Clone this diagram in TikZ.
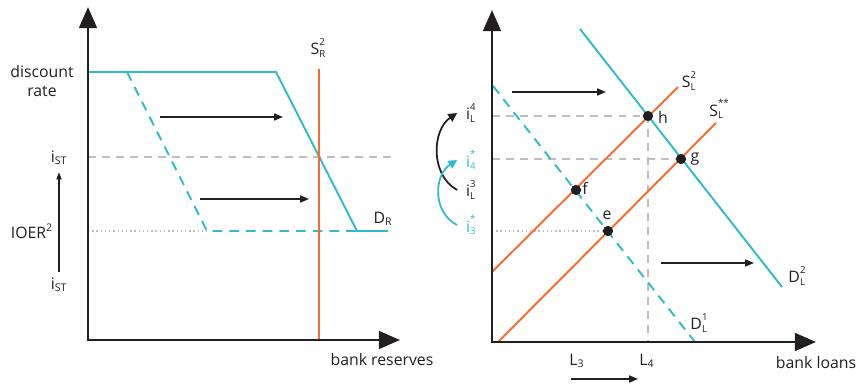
\documentclass[tikz,border=0pt]{standalone}
\usepackage{fontspec}
\setmainfont{Open Sans}
\usepackage{xcolor}
\definecolor{dteal}{RGB}{46,188,203}
\definecolor{sorange}{RGB}{247,107,46}
\definecolor{guide}{RGB}{190,190,190}
\definecolor{ink}{RGB}{35,31,32}
\usetikzlibrary{arrows.meta,positioning}
\newcommand{\supsub}[2]{\raisebox{-1.4pt}{\fontsize{5.5}{6}\selectfont\shortstack[l]{#1\\[-0.3pt]#2}}}

\begin{document}
\begin{tikzpicture}[x=0.02cm, y=-0.02cm,
  axisline/.style={line width=1.7pt, ink, line join=miter, {Triangle[length=12pt,width=10pt]}-{Triangle[length=12pt,width=10pt]}},
  demand/.style={line width=1.1pt, dteal},
  supply/.style={line width=1.1pt, sorange},
  guideline/.style={line width=1pt, guide, dash pattern=on 4.5pt off 3.5pt},
  dotline/.style={line width=1pt, guide, dash pattern=on 0.8pt off 1.6pt},
  movearrow/.style={line width=0.8pt, ink, -{Triangle[length=5pt,width=4pt]}},
  lbl/.style={font=\fontsize{9}{10.5}\selectfont, text=ink, inner sep=1pt},
  eqdot/.style={circle, fill=ink, inner sep=0pt, minimum size=5.7pt}]
  \useasboundingbox (0,0) rectangle (859,388);

  %% Left panel: reserves market
  \coordinate (o1) at (88,340);
  \coordinate (ytop1) at (88,7);
  \coordinate (xend1) at (400,340);
  \coordinate (ist1l) at (88,157);
  \coordinate (ist1r) at (395,157);
  \coordinate (ioerl) at (88,231);
  \coordinate (dr1) at (88,72);
  \coordinate (dr0) at (127,72);
  \coordinate (dr2) at (276,72);
  \coordinate (dr3) at (357,231);
  \coordinate (dr4) at (388,231);
  \coordinate (dd1) at (207,231);
  \coordinate (srtop) at (319,69);
  \coordinate (srbot) at (319,340);

  \draw[guideline] (ist1l) -- (ist1r);
  \draw[dotline] (ioerl) -- (dd1);
  \draw[demand, dash pattern=on 5.5pt off 4pt] (dr0) -- (dd1) -- (dr3);
  \draw[demand] (dr1) -- (dr2) -- (dr3) -- (dr4);
  \draw[supply] (srtop) -- (srbot);
  \draw[axisline] (ytop1) -- (o1) -- (xend1);

  \coordinate (m1a) at (160,117);
  \coordinate (m1b) at (283,117);
  \coordinate (m2a) at (200,199);
  \coordinate (m2b) at (309,199);
  \draw[movearrow] (m1a) -- (m1b);
  \draw[movearrow] (m2a) -- (m2b);

  \node[lbl, align=center] (disc) at (42,81) {discount\\rate};
  \node[lbl] (ist1) at (59,158) {i\textsubscript{ST}};
  \node[lbl] (ioer) at (32,231) {IOER\textsuperscript{2}};
  \node[lbl] (ist0) at (59,285) {i\textsubscript{ST}};
  \draw[line width=0.6pt, ink, -{Triangle[length=4pt,width=3pt]}, shorten <=2pt, shorten >=3pt] (ist0) -- (ist1);
  \node[lbl] (srlab) at (318,48) {S\supsub{2}{R}};
  \node[lbl] (drlab) at (383,219) {D\textsubscript{R}};
  \node[lbl] (xlab1) at (382,360) {bank reserves};

  %% Right panel: loan market
  \coordinate (o2) at (492,342);
  \coordinate (ytop2) at (492,10);
  \coordinate (xend2) at (816,342);
  \coordinate (dl2a) at (580,29);
  \coordinate (dl2b) at (782,287);
  \coordinate (dl1a) at (493,86);
  \coordinate (dl1b) at (695,342);
  \coordinate (sl2a) at (492,272);
  \coordinate (sl2b) at (678,87);
  \coordinate (slsa) at (498,342);
  \coordinate (slsb) at (716,123);
  \coordinate (yh) at (492,116);
  \coordinate (yg) at (492,159);
  \coordinate (ye) at (492,231);
  \coordinate (xh) at (648,342);

  \node[eqdot] (h) at (648,116) {};
  \node[eqdot] (g) at (681,159) {};
  \node[eqdot] (f) at (576,190) {};
  \node[eqdot] (e) at (608,231) {};

  \draw[guideline] (yh) -- (h.center) -- (xh);
  \draw[guideline] (yg) -- (g.center);
  \draw[dotline] (ye) -- (e.center);
  \draw[demand, dash pattern=on 5.5pt off 4pt] (dl1a) -- (dl1b);
  \draw[demand] (dl2a) -- (dl2b);
  \draw[supply] (sl2a) -- (sl2b);
  \draw[supply] (slsa) -- (slsb);
  \foreach \p in {h,g,f,e} \node[eqdot] at (\p) {};
  \draw[axisline] (ytop2) -- (o2) -- (xend2);

  \coordinate (m3a) at (512,92);
  \coordinate (m3b) at (606,92);
  \coordinate (m4a) at (661,263);
  \coordinate (m4b) at (754,263);
  \coordinate (m5a) at (571,379);
  \coordinate (m5b) at (638,379);
  \draw[movearrow] (m3a) -- (m3b);
  \draw[movearrow] (m4a) -- (m4b);
  \draw[movearrow] (m5a) -- (m5b);

  \node[lbl] (hlab) at (663,117) {h};
  \node[lbl] (glab) at (695,159) {g};
  \node[lbl] (flab) at (585,188) {f};
  \node[lbl] (elab) at (607,215) {e};
  \node[lbl] (sl2lab) at (689,81) {S\supsub{2}{L}};
  \node[lbl] (slslab) at (719,109) {S\supsub{**}{L}};
  \node[lbl] (dl2lab) at (797,276) {D\supsub{2}{L}};
  \node[lbl] (dl1lab) at (699,323) {D\supsub{1}{L}};
  \node[lbl] (l3lab) at (577,361) {L\textsubscript{3}};
  \node[lbl] (l4lab) at (647,361) {L\textsubscript{4}};
  \node[lbl] (xlab2) at (816,363) {bank loans};

  \node[lbl] (il4) at (471,113) {i\supsub{4}{L}};
  \node[lbl, text=dteal] (i4s) at (471,160) {i\supsub{*}{4}};
  \node[lbl] (il3) at (471,190) {i\supsub{3}{L}};
  \node[lbl, text=dteal] (i3s) at (471,225) {i\supsub{*}{3}};

  \draw[line width=1pt, ink, -{Triangle[length=5pt,width=5pt]}]
    ([xshift=-4pt]il3.west) .. controls (430,175) and (432,130) .. ([xshift=-4pt]il4.west);
  \draw[line width=1pt, dteal, -{Triangle[length=5pt,width=5pt]}]
    ([xshift=-4pt]i3s.west) .. controls (432,212) and (434,175) .. ([xshift=-4pt]i4s.west);
\end{tikzpicture}
\end{document}
